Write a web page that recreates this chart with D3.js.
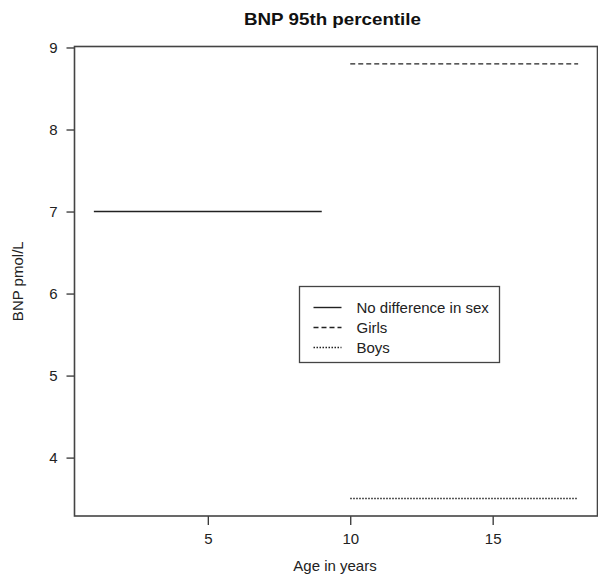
<!DOCTYPE html>
<html>
<head>
<meta charset="utf-8">
<script src="https://cdn.jsdelivr.net/npm/d3@7/dist/d3.min.js"></script>
<style>
  body { margin: 0; background: #fff; }
  svg { display: block; font-family: "Liberation Sans", Arial, sans-serif; }
  .axis text { font-size: 15px; fill: #222; }
  .axis line { stroke: #333; stroke-width: 1.3; }
</style>
</head>
<body>
<svg id="chart" width="598" height="575"></svg>
<script>
  // groups and their 95th percentile BNP values
  const groups = ["No difference in sex", "Girls", "Boys"];
  const ageFrom = [1, 10, 10];
  const ageTo = [9, 18, 18];
  const bnp95 = [7, 8.8, 3.5];
  const xTicks = [5, 10, 15];
  const yTicks = [4, 5, 6, 7, 8, 9];
  const dashes = ["none", "5,3", "1.5,1.5"];

  let svg = d3.select('#chart'),
    padLeft = 74.5,
    padRight = 597.5,
    padTop = 46.5,
    padBottom = 516;

  // R style: pad data range by 4% on each side
  let xMin = d3.min(ageFrom), xMax = d3.max(ageTo),
    yMin = d3.min(bnp95), yMax = d3.max(bnp95),
    xPad = (xMax - xMin) * 0.04,
    yPad = (yMax - yMin) * 0.04;

  let x = d3.scaleLinear()
    .domain([xMin - xPad, xMax + xPad])
    .range([padLeft, padRight]);

  let y = d3.scaleLinear()
    .domain([yMin - yPad, yMax + yPad])
    .range([padBottom, padTop]);

  // axes
  let axisX = d3.axisBottom(x)
    .tickValues(xTicks)
    .tickFormat(d3.format('d'))
    .tickSize(9)
    .tickPadding(8);
  svg.append('g')
    .attr('class', 'axis')
    .attr('transform', 'translate(0,' + padBottom + ')')
    .call(axisX)
    .call(g => g.select('.domain').remove());

  let axisY = d3.axisLeft(y)
    .tickValues(yTicks)
    .tickFormat(d3.format('d'))
    .tickSize(8)
    .tickPadding(9);
  svg.append('g')
    .attr('class', 'axis')
    .attr('transform', 'translate(' + padLeft + ',0)')
    .call(axisY)
    .call(g => g.select('.domain').remove());

  // box around plot
  svg.append('rect')
    .attr('x', padLeft)
    .attr('y', padTop)
    .attr('width', padRight - padLeft)
    .attr('height', padBottom - padTop)
    .attr('fill', 'none')
    .attr('stroke', '#444')
    .attr('stroke-width', 1.6);

  // segments
  svg.append('g')
    .selectAll('line')
    .data(groups)
    .enter()
    .append('line')
    .attr('x1', (d, i) => x(ageFrom[i]))
    .attr('x2', (d, i) => x(ageTo[i]))
    .attr('y1', (d, i) => y(bnp95[i]))
    .attr('y2', (d, i) => y(bnp95[i]))
    .attr('stroke', '#222')
    .attr('stroke-width', (d, i) => i === 2 ? 1.5 : 1.4)
    .attr('stroke-dasharray', (d, i) => dashes[i]);

  // titles
  svg.append('text')
    .attr('x', 332.5)
    .attr('y', 25)
    .attr('text-anchor', 'middle')
    .attr('font-size', 16.5)
    .attr('font-weight', 'bold')
    .attr('fill', '#111')
    .attr('textLength', 177)
    .attr('lengthAdjust', 'spacingAndGlyphs')
    .text('BNP 95th percentile');

  svg.append('text')
    .attr('x', 335)
    .attr('y', 571)
    .attr('text-anchor', 'middle')
    .attr('font-size', 15)
    .attr('fill', '#222')
    .text('Age in years');

  svg.append('text')
    .attr('transform', 'translate(23,' + ((padTop + padBottom) / 2) + ') rotate(-90)')
    .attr('text-anchor', 'middle')
    .attr('font-size', 15)
    .attr('fill', '#222')
    .text('BNP pmol/L');

  // legend
  let legend = svg.append('g')
    .attr('transform', 'translate(299.5,286.5)');

  legend.append('rect')
    .attr('width', 200)
    .attr('height', 76)
    .attr('fill', '#fff')
    .attr('stroke', '#444')
    .attr('stroke-width', 1.3);

  let rows = legend.selectAll('.row')
    .data(groups)
    .enter()
    .append('g')
    .attr('class', 'row')
    .attr('transform', (d, i) => 'translate(0,' + (21 + i * 20) + ')');

  rows.append('line')
    .attr('x1', 14)
    .attr('x2', 42)
    .attr('stroke', '#222')
    .attr('stroke-width', 1.4)
    .attr('stroke-dasharray', (d, i) => dashes[i]);

  rows.append('text')
    .attr('x', 57)
    .attr('y', 5.5)
    .attr('font-size', 15)
    .attr('fill', '#222')
    .text(d => d);
</script>
</body>
</html>
